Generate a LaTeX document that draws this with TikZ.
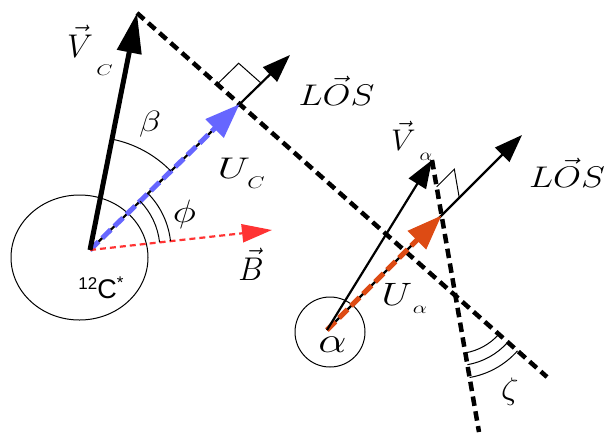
\RequirePackage{fix-cm}
\documentclass[tikz,border=0pt]{standalone}
\usepackage{fontspec}
\usepackage{graphicx}
\newfontfamily\labelsans{Liberation Sans}
\usepackage{tikz}
\usetikzlibrary{arrows.meta,calc,intersections}
\definecolor{ublue}{RGB}{102,102,255}
\definecolor{ured}{RGB}{255,51,51}
\definecolor{uorange}{RGB}{221,75,20}

\begin{document}
\begin{tikzpicture}[x=1pt,y=-1pt,
    thinvec/.style={line width=2.2pt, -{Triangle[length=28pt,width=20pt]}},
    bigvec/.style={line width=5pt, -{Triangle[length=40pt,width=24pt]}},
    frontline/.style={line width=4.5pt, dash pattern=on 9.5pt off 5.5pt},
    unitvec/.style={line width=5pt, dash pattern=on 12pt off 5pt, -{Triangle[length=35pt,width=25pt]}},
    thinline/.style={line width=1pt},
    lbl/.style={inner sep=0pt, anchor=base, font=\Huge}]
    \useasboundingbox (0,0) rectangle (604,432);
    % Kerne
    \coordinate (C) at (90,250);
    \coordinate (A) at (327,330);
    \draw[thinline] (79.5,257.5) ellipse[x radius=68.5, y radius=62.5];
    \draw[thinline] (330,332) circle[radius=35];
    % Spitzen
    \coordinate (VCtip) at (137,13);
    \coordinate (LOSC) at (290,55);
    \coordinate (Btip) at (272,230);
    \coordinate (VAtip) at (432,160);
    \coordinate (LOSA) at (522,135);
    \coordinate (FCend) at (547,377);
    \coordinate (FAend) at (479,432);
    % gestrichelte Linien
    \draw[frontline, name path=frontC] (VCtip) -- (FCend);
    \draw[frontline, name path=frontA] (VAtip) -- (FAend);
    % Sichtlinien
    \draw[thinvec, name path=losC] (C) -- (LOSC);
    \draw[thinvec, name path=losA] (A) -- (LOSA);
    \path[name intersections={of=frontC and losC, by=IC}];
    \path[name intersections={of=frontA and losA, by=IA}];
    \path[name intersections={of=frontC and frontA, by=X}];
    \draw[unitvec, ublue] (C) -- (IC);
    \draw[unitvec, uorange] (A) -- (IA);
    \draw[ured, line width=2.2pt, dash pattern=on 6pt off 4pt, -{Triangle[length=30pt,width=18pt]}] (C) -- (Btip);
    % Geschwindigkeiten
    \draw[bigvec] (C) -- (VCtip);
    \draw[thinvec] (A) -- (VAtip);
    % rechte Winkel
    \coordinate (mC1) at ($(IC)!30pt!(VCtip)$);
    \coordinate (mC2) at ($(IC)!30pt!(LOSC)$);
    \draw[thinline] (mC1) -- ($(mC1)+(mC2)-(IC)$) -- (mC2);
    \coordinate (mA1) at ($(IA)!29pt!(VAtip)$);
    \coordinate (mA2) at ($(IA)!25pt!(LOSA)$);
    \draw[thinline] (mA1) -- ($(mA1)+(mA2)-(IA)$) -- (mA2);
    % Winkel
    \draw[thinline] ($(C)+(-78.8:113)$) arc[start angle=-78.8, end angle=-44.3, radius=113];
    \foreach \r in {70,81} {
        \draw[thinline] ($(C)+(-44.3:\r)$) arc[start angle=-44.3, end angle=-6.3, radius=\r];
    }
    \foreach \r in {58,70,83} {
        \draw[thinline] ($(X)+(41.6:\r)$) arc[start angle=41.6, end angle=80.2, radius=\r];
    }
    % Beschriftung
    \node[lbl] (lVC) at (80,57) {\scalebox{1.32}[1.32]{$\vec{V}$}};
    \node[lbl] (lVCsub) at (104.5,75) {\scalebox{0.85}[0.62]{$C$}};
    \node[lbl] (lbeta) at (150,131.5) {\scalebox{1.45}[1.18]{$\beta$}};
    \node[lbl] (lphi) at (184.5,222) {\scalebox{1.6}[1.3]{$\phi$}};
    \node[lbl] (lB) at (251,280) {\scalebox{1.28}[1.32]{$\vec{B}$}};
    \node[lbl] (lUC) at (234,178) {\scalebox{1.7}[1.2]{$U$}};
    \node[lbl] (lUCsub) at (256,188) {\scalebox{0.9}[0.68]{$C$}};
    \node[lbl] (lLOSC) at (336.5,105) {\scalebox{1.45}[1.2]{$L\vec{O}S$}};
    \node[lbl] (lLOSA) at (567,187) {\scalebox{1.45}[1.2]{$L\vec{O}S$}};
    \node[lbl] (lVA) at (403.5,150) {\scalebox{1.25}[1.2]{$\vec{V}$}};
    \node[lbl] (lVAsub) at (426,160) {\scalebox{0.8}[0.68]{$\alpha$}};
    \node[lbl] (lUA) at (397,305) {\scalebox{1.6}[1.3]{$U$}};
    \node[lbl] (lUAsub) at (420,313) {\scalebox{0.9}[0.68]{$\alpha$}};
    \node[lbl] (lalpha) at (332.5,352) {\scalebox{1.8}[1.45]{$\alpha$}};
    \node[lbl] (lzeta) at (510,399) {\scalebox{1.4}[1.25]{$\zeta$}};
    \node[lbl, anchor=center, font=\labelsans\fontsize{27}{29}\selectfont] (lC12) at (101,288)
        {{\fontsize{17}{18}\selectfont\raisebox{9pt}{12}}C{\fontsize{17}{18}\selectfont\raisebox{10pt}{*}}};
\end{tikzpicture}
\end{document}
